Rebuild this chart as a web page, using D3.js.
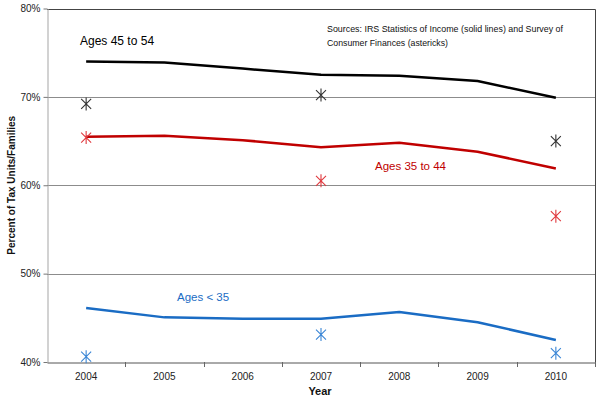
<!DOCTYPE html>
<html><head><meta charset="utf-8">
<script src="https://cdn.jsdelivr.net/npm/d3@7"></script>
<style>body{margin:0;background:#fff}svg{display:block}text{font-family:"Liberation Sans",Arial,sans-serif}</style>
</head><body><svg id="c" width="600" height="399"></svg>
<script>
const years = ["2004","2005","2006","2007","2008","2009","2010"];
const yTicks = [0.40,0.50,0.60,0.70,0.80];
const irs45to54 = [74.0,73.9,73.2,72.5,72.4,71.8,69.9];
const irs35to44 = [65.5,65.6,65.1,64.3,64.8,63.8,61.9];
const irsUnder35 = [46.1,45.05,44.9,44.9,45.65,44.5,42.5];
const scfYears = ["2004","2007","2010"];
const scf45to54 = [69.2,70.2,65.0];
const scf35to44 = [65.4,60.5,56.5];
const scfUnder35 = [40.6,43.1,41.0];

const svg = d3.select("#c");
const L=47, R=595, T=8.5, B=362;
const x = d3.scaleBand().domain(years).range([L,R]);
const y = d3.scaleLinear().domain([0.4,0.8]).range([B,T]);
const cx = d => x(d)+x.bandwidth()/2;

// gridlines
svg.append("g").selectAll("line").data([0.5,0.6,0.7]).join("line")
  .attr("x1",L).attr("x2",R).attr("y1",d=>Math.round(y(d))+0.5).attr("y2",d=>Math.round(y(d))+0.5)
  .attr("stroke","#8c8c8c").attr("stroke-width",1);
// top & right border
svg.append("path").attr("d",`M${L},${Math.round(T)+0.5}H${R+0.5}V${B}`).attr("fill","none").attr("stroke","#444");

// y axis
const ya = svg.append("g").attr("transform",`translate(${L+0.5},0)`)
  .call(d3.axisLeft(y).tickValues(yTicks).tickFormat(d3.format(".0%")).tickSize(4).tickSizeOuter(0));
ya.select(".domain").attr("stroke","#a5a5a5");
ya.selectAll(".tick line").attr("stroke","#777");
ya.selectAll("text").attr("font-size",10).attr("fill","#222").attr("x",-7);

// x axis
const xa = svg.append("g").attr("transform",`translate(0,${Math.round(B)+0.5})`)
  .call(d3.axisBottom(x).tickSize(0).tickSizeOuter(0));
xa.select(".domain").attr("stroke","#555");
xa.selectAll("text").attr("font-size",10).attr("fill","#222").attr("dy","1.45em");
// category separator ticks
svg.append("g").selectAll("line").data(years.slice(1).concat(["end"])).join("line")
  .attr("x1",(d,i)=>Math.round(L+x.step()*(i+1))+0.5).attr("x2",(d,i)=>Math.round(L+x.step()*(i+1))+0.5)
  .attr("y1",B).attr("y2",B+5).attr("stroke","#666");

const line = d3.line().x((d,i)=>cx(years[i])).y(d=>y(d/100));
const series = [
  {v:irs45to54, s:scf45to54, c:"#000000", sc:"#333333"},
  {v:irs35to44, s:scf35to44, c:"#c00000", sc:"#e0393e"},
  {v:irsUnder35, s:scfUnder35, c:"#1a6cc4", sc:"#3a86d6"}
];
series.forEach(sr=>{
  svg.append("path").attr("d",line(sr.v)).attr("fill","none").attr("stroke",sr.c).attr("stroke-width",2.5).attr("stroke-linejoin","round");
});
const star = "M-5,-5L5,5M-5,5L5,-5M0,-6.5V6.5";
series.forEach(sr=>{
  svg.append("g").selectAll("path").data(sr.s).join("path")
    .attr("transform",(d,i)=>`translate(${cx(scfYears[i])},${y(d/100)})`)
    .attr("d",star).attr("fill","none").attr("stroke",sr.sc).attr("stroke-width",1.1);
});

// labels
svg.append("text").attr("x",80).attr("y",45).attr("font-size",12).attr("fill","#000").text("Ages 45 to 54");
svg.append("text").attr("x",375).attr("y",170).attr("font-size",11.5).attr("fill","#c00000").text("Ages 35 to 44");
svg.append("text").attr("x",177).attr("y",301).attr("font-size",11.5).attr("fill","#1a6cc4").text("Ages < 35");
const src = svg.append("text").attr("font-size",9.8).attr("fill","#111");
src.append("tspan").attr("x",327).attr("y",32).attr("textLength",236).attr("lengthAdjust","spacingAndGlyphs")
  .text("Sources: IRS Statistics of Income (solid lines) and Survey of");
src.append("tspan").attr("x",327).attr("y",46).attr("textLength",121).attr("lengthAdjust","spacingAndGlyphs")
  .text("Consumer Finances (astericks)");

svg.append("text").attr("transform",`translate(15,${(T+B)/2}) rotate(-90)`).attr("text-anchor","middle")
  .attr("font-size",10).attr("font-weight","bold").attr("fill","#111").text("Percent of Tax Units/Families");
svg.append("text").attr("x",320).attr("y",395).attr("text-anchor","middle")
  .attr("font-size",11).attr("font-weight","bold").attr("fill","#111").text("Year");
</script></body></html>
